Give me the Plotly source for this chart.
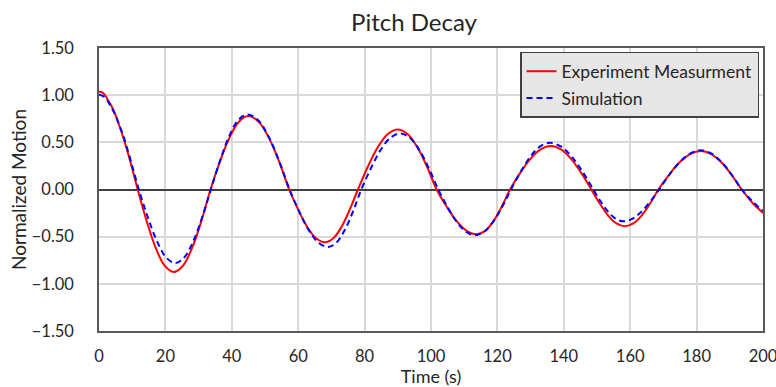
import plotly.graph_objects as go

exp_time = [0, 1.2, 2.4, 4, 5.4, 7.4, 9.5, 11.65,
            14.36, 17.08, 19.79, 22.5, 25.28, 28.05, 30.83, 33.6,
            36.45, 39.3, 42.15, 45.0, 48.08, 51.15, 54.23, 57.3,
            60.0, 62.7, 65.4, 68.1, 70.58, 73.05, 75.53, 78.0,
            81.0, 84.0, 87.0, 90.0, 92.93, 95.85, 98.78, 101.7,
            104.73, 107.75, 110.78, 113.8, 116.3, 118.8, 121.3, 123.8,
            126.88, 129.95, 133.03, 136.1, 139.15, 142.2, 145.25, 148.3,
            150.83, 153.35, 155.88, 158.4, 160.93, 163.45, 165.98, 168.5,
            171.7, 174.9, 178.1, 181.3, 184.38, 187.45, 190.53, 193.6,
            196.8, 200]
exp_motion = [1.035, 1.025, 0.965, 0.87, 0.75, 0.54, 0.29, 0.0,
              -0.335, -0.619, -0.808, -0.875, -0.808, -0.619, -0.335, 0.0,
              0.298, 0.550, 0.719, 0.778, 0.719, 0.550, 0.298, 0.0,
              -0.214, -0.396, -0.517, -0.56, -0.517, -0.396, -0.214, 0.0,
              0.244, 0.450, 0.589, 0.637, 0.589, 0.450, 0.244, 0.0,
              -0.182, -0.336, -0.439, -0.475, -0.439, -0.336, -0.182, 0.0,
              0.176, 0.325, 0.425, 0.46, 0.425, 0.325, 0.176, 0.0,
              -0.149, -0.276, -0.360, -0.39, -0.360, -0.276, -0.149, 0.0,
              0.156, 0.288, 0.376, 0.407, 0.376, 0.288, 0.156, 0.0,
              -0.14, -0.248]

# Simulation (blue dashed)
sim_time = [0, 1.2, 2.4, 3.4, 4.5, 5.6, 7.4, 9.6, 12.0,
            14.75, 17.5, 20.25, 23.0, 25.68, 28.35, 31.03, 33.7,
            36.45, 39.2, 41.95, 44.7, 47.88, 51.05, 54.23, 57.4,
            60.3, 63.2, 66.1, 69.0, 71.5, 74.0, 76.5, 79.0,
            81.93, 84.85, 87.78, 90.7, 93.58, 96.45, 99.33, 102.2,
            104.98, 107.75, 110.53, 113.3, 116.0, 118.7, 121.4, 124.1,
            127.03, 129.95, 132.88, 135.8, 139.08, 142.35, 145.63, 148.9,
            151.15, 153.4, 155.65, 157.9, 160.6, 163.3, 166.0, 168.7,
            171.85, 175.0, 178.15, 181.3, 184.38, 187.45, 190.53, 193.6,
            196.8, 200]
sim_motion = [1.005, 0.99, 0.95, 0.89, 0.82, 0.73, 0.56, 0.30, 0.0,
              -0.299, -0.551, -0.721, -0.78, -0.721, -0.551, -0.299, 0.0,
              0.305, 0.563, 0.736, 0.796, 0.736, 0.563, 0.305, 0.0,
              -0.234, -0.431, -0.564, -0.61, -0.564, -0.431, -0.234, 0.0,
              0.227, 0.420, 0.549, 0.594, 0.549, 0.420, 0.227, 0.0,
              -0.186, -0.343, -0.448, -0.485, -0.448, -0.343, -0.186, 0.0,
              0.189, 0.350, 0.457, 0.495, 0.457, 0.350, 0.189, 0.0,
              -0.129, -0.238, -0.311, -0.337, -0.311, -0.238, -0.129, 0.0,
              0.159, 0.293, 0.383, 0.415, 0.383, 0.293, 0.159, 0.0,
              -0.125, -0.225]

x_ticks = [0, 20, 40, 60, 80, 100, 120, 140, 160, 180, 200]
y_ticks = [-1.5, -1.0, -0.5, 0.0, 0.5, 1.0, 1.5]

FONT = "Lato"
TXT = "#262626"
W, H = 776, 387

fig = go.Figure()
fig.add_trace(go.Scatter(x=exp_time, y=exp_motion, mode="lines", name="Experiment Measurment",
                         line=dict(color="#ff0000", width=2, shape="spline", smoothing=1.0),
                         legendgroup="a"))
fig.add_trace(go.Scatter(x=sim_time, y=sim_motion, mode="lines", name="Simulation",
                         line=dict(color="#0000ff", width=2, dash="6px,4px", shape="spline", smoothing=1.0),
                         legendgroup="b"))

fig.update_layout(
    width=W, height=H,
    margin=dict(l=99, r=13, t=48, b=56),
    paper_bgcolor="white", plot_bgcolor="white",
    font=dict(family=FONT, size=17, color=TXT),
    title=dict(text="Pitch Decay", x=414 / W, xanchor="center", xref="container",
               y=1 - 23 / H, yanchor="middle", yref="container",
               font=dict(family=FONT, size=24, color=TXT)),
    legend=dict(x=0.994, y=0.986, xanchor="right", yanchor="top",
                bgcolor="#e7e6e6", bordercolor="#404040", borderwidth=1.5,
                font=dict(family=FONT, size=17.5, color=TXT), tracegroupgap=1,
                itemwidth=30),
    xaxis=dict(range=[0, 200], tickvals=x_ticks, ticktext=[str(v) for v in x_ticks],
               showgrid=True, gridcolor="#d9d9d9", gridwidth=1.5,
               showline=True, linecolor="#595959", linewidth=1.5, mirror=True,
               zeroline=False, ticks="", ticklabelstandoff=9, automargin=False,
               ticklabeloverflow="allow", tickfont=dict(size=16.5),
               title=dict(text="Time (s)", standoff=12, font=dict(size=18))),
    yaxis=dict(range=[-1.5, 1.5], tickvals=y_ticks, tickformat=".2f",
               showgrid=True, gridcolor="#d9d9d9", gridwidth=1.5,
               showline=True, linecolor="#595959", linewidth=1.5, mirror=True,
               zeroline=True, zerolinecolor="#404040", zerolinewidth=1.5,
               ticks="", ticklabelstandoff=20, automargin=False,
               tickfont=dict(size=16.5),
               title=dict(text="Normalized Motion", standoff=0, font=dict(size=19))),
)

# remove the browser's default 8px body margin so the figure fills the window exactly
fig.write_html("out.html", config={"displayModeBar": False},
               post_script="document.body.style.margin='0px';")
